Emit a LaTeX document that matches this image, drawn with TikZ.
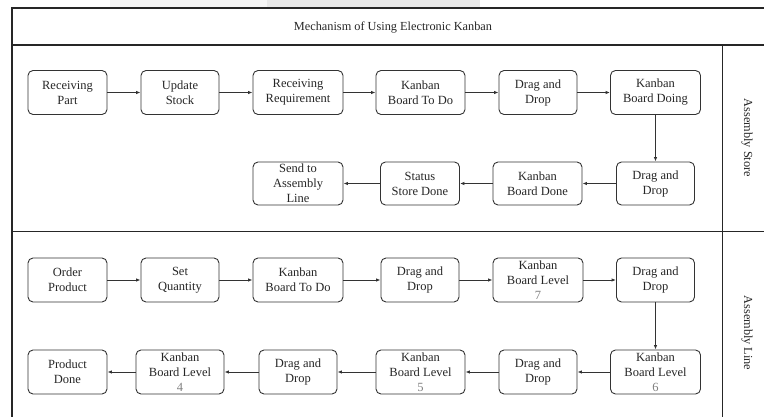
\documentclass[tikz,border=0pt]{standalone}
\usepackage{fontspec}
\setmainfont{Liberation Serif}
\usetikzlibrary{arrows.meta}
\begin{document}
\begin{tikzpicture}[x=1pt,y=-1pt,
  box/.style={draw=black!80, line width=0.9pt, rounded corners=5pt, align=center,
    font=\fontsize{12.5}{15}\selectfont, text=black!85, inner sep=0pt, minimum height=44pt},
  flow/.style={-{Latex[length=4.5pt,width=3.5pt]}, line width=0.9pt, draw=black!80},
  frame/.style={line width=1.3pt, draw=black!85},
  lbl/.style={font=\fontsize{12.3}{14}\selectfont, text=black!85}]
\useasboundingbox (0,0) rectangle (764,417);
\clip (0,0) rectangle (764,417);
\fill[black!4] (110,0) rectangle (267,7);
\fill[black!9] (267,0) rectangle (480,7);
% frame and lanes
\draw[frame] (12,440) -- (12,8) -- (790,8);
\draw[frame] (12,45) -- (790,45);
\draw[frame] (12,231.5) -- (790,231.5);
\draw[frame] (722.5,45) -- (722.5,440);
\node[lbl] (title) at (393,27) {Mechanism of Using Electronic Kanban};
\node[lbl, rotate=-90] (store) at (747,138) {Assembly Store};
\node[lbl, rotate=-90] (line) at (747,333) {Assembly Line};
% row 1
\node[box, minimum width=79pt] (a1) at (67.5,92.5) {Receiving\\Part};
\node[box, minimum width=78pt] (a2) at (180,92.5) {Update\\Stock};
\node[box, minimum width=90pt] (a3) at (298,92.5) {Receiving\\Requirement};
\node[box, minimum width=89pt] (a4) at (420.5,92.5) {Kanban\\Board To Do};
\node[box, minimum width=78pt] (a5) at (538,92.5) {Drag and\\Drop};
\node[box, minimum width=90pt] (a6) at (655.5,92.5) {Kanban\\Board Doing};
% row 2
\node[box, minimum width=78pt, minimum height=43pt] (b1) at (655.5,183.5) {Drag and\\Drop};
\node[box, minimum width=89pt, minimum height=43pt] (b2) at (537.5,183.5) {Kanban\\Board Done};
\node[box, minimum width=79pt, minimum height=43pt] (b3) at (420,183.5) {Status\\Store Done};
\node[box, minimum width=90pt, minimum height=43pt] (b4) at (298,183.5) {Send to\\Assembly\\Line};
% row 3
\node[box, minimum width=79pt] (c1) at (67.5,280) {Order\\Product};
\node[box, minimum width=78pt] (c2) at (180,280) {Set\\Quantity};
\node[box, minimum width=90pt] (c3) at (298,280) {Kanban\\Board To Do};
\node[box, minimum width=78pt] (c4) at (420,280) {Drag and\\Drop};
\node[box, minimum width=90pt] (c5) at (538,280) {Kanban\\Board Level\\\textcolor{black!50}{7}};
\node[box, minimum width=78pt] (c6) at (655.5,280) {Drag and\\Drop};
% row 4
\node[box, minimum width=90pt] (d1) at (655.5,372) {Kanban\\Board Level\\\textcolor{black!50}{6}};
\node[box, minimum width=78pt] (d2) at (538,372) {Drag and\\Drop};
\node[box, minimum width=89pt] (d3) at (420.5,372) {Kanban\\Board Level\\\textcolor{black!50}{5}};
\node[box, minimum width=78pt] (d4) at (298,372) {Drag and\\Drop};
\node[box, minimum width=88pt] (d5) at (180,372) {Kanban\\Board Level\\\textcolor{black!50}{4}};
\node[box, minimum width=79pt] (d6) at (67.5,372) {Product\\Done};
% connectors
\draw[flow] (a1) -- (a2);
\draw[flow] (a2) -- (a3);
\draw[flow] (a3) -- (a4);
\draw[flow] (a4) -- (a5);
\draw[flow] (a5) -- (a6);
\draw[flow] (a6) -- (b1);
\draw[flow] (b1) -- (b2);
\draw[flow] (b2) -- (b3);
\draw[flow] (b3) -- (b4);
\draw[flow] (c1) -- (c2);
\draw[flow] (c2) -- (c3);
\draw[flow] (c3) -- (c4);
\draw[flow] (c4) -- (c5);
\draw[flow] (c5) -- (c6);
\draw[flow] (c6) -- (d1);
\draw[flow] (d1) -- (d2);
\draw[flow] (d2) -- (d3);
\draw[flow] (d3) -- (d4);
\draw[flow] (d4) -- (d5);
\draw[flow] (d5) -- (d6);
\end{tikzpicture}
\end{document}
